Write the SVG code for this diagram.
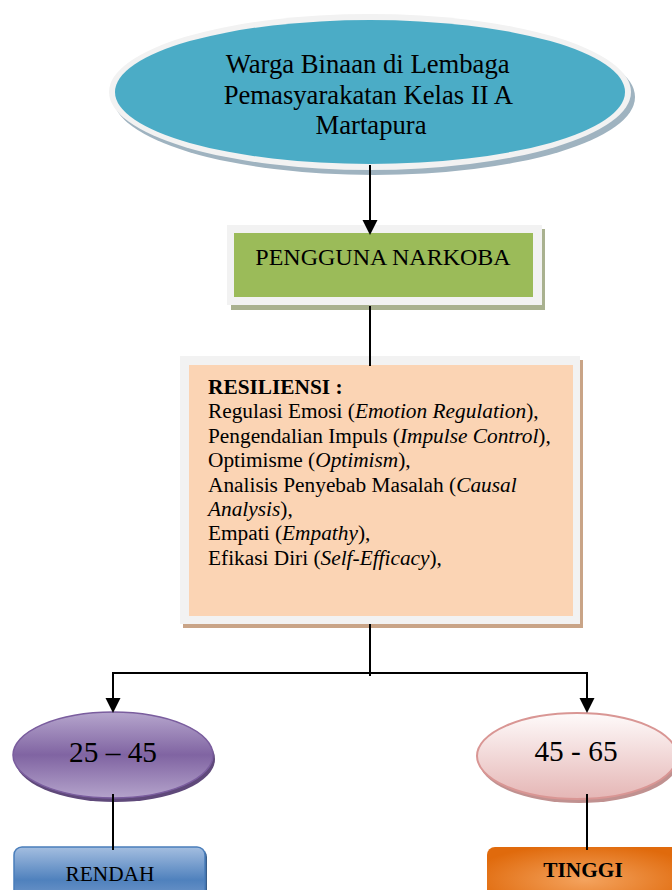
<svg xmlns="http://www.w3.org/2000/svg" width="672" height="890" viewBox="0 0 672 890">
  <style>
    .t { font-family: "Liberation Serif", "Times New Roman", serif; fill: #000; }
    .conn { stroke: #000; stroke-width: 2; fill: none; }
    .head { fill: #000; stroke: none; }
  </style>
  <defs>
    <linearGradient id="gPurple" x1="0" y1="0" x2="0" y2="1">
      <stop offset="0" stop-color="#b6a6cd"/>
      <stop offset="0.5" stop-color="#8064a2"/>
      <stop offset="1" stop-color="#b4a3cb"/>
    </linearGradient>
    <linearGradient id="gPink" x1="0" y1="0" x2="0" y2="1">
      <stop offset="0" stop-color="#fefafa"/>
      <stop offset="1" stop-color="#e5b6b5"/>
    </linearGradient>
    <linearGradient id="gBlue" x1="0" y1="0" x2="0" y2="1">
      <stop offset="0" stop-color="#a4bee0"/>
      <stop offset="0.55" stop-color="#4f81bd"/>
      <stop offset="1" stop-color="#7fa0cf"/>
    </linearGradient>
    <radialGradient id="gOrange" cx="0.5" cy="0.55" r="0.6">
      <stop offset="0" stop-color="#f4a35e"/>
      <stop offset="1" stop-color="#e06a0c"/>
    </radialGradient>
  </defs>

  <g id="node-warga">
    <ellipse cx="374" cy="97" rx="261" ry="78" fill="#9fb3c0"/>
    <ellipse cx="370" cy="92" rx="261" ry="78" fill="#f2f2f2"/>
    <ellipse cx="370" cy="92" rx="255" ry="72" fill="#4bacc6"/>
    <text class="t" font-size="26.67" text-anchor="middle">
      <tspan x="371" y="73">Warga Binaan di Lembaga</tspan>
      <tspan x="371" y="104">Pemasyarakatan Kelas II A</tspan>
      <tspan x="371" y="134">Martapura</tspan>
    </text>
  </g>

  <g id="node-pengguna">
    <rect x="231" y="229" width="314" height="81" fill="#a9b18f"/>
    <rect x="227" y="225" width="315" height="80" fill="#f2f2f2"/>
    <rect x="234" y="233" width="299" height="64" fill="#9bbb59"/>
    <text class="t" x="383" y="265" font-size="24" text-anchor="middle">PENGGUNA NARKOBA</text>
  </g>

  <g id="node-resiliensi">
    <rect x="183" y="360" width="400" height="268" fill="#c9a487"/>
    <rect x="180" y="356" width="400" height="268" fill="#f2f2f2"/>
    <rect x="189" y="365" width="384" height="251" fill="#fbd4b4"/>
    <text class="t" font-size="21.33">
      <tspan x="208" y="394" font-weight="bold">RESILIENSI :</tspan>
      <tspan x="208" y="418">Regulasi Emosi (<tspan font-style="italic">Emotion Regulation</tspan>),</tspan>
      <tspan x="208" y="443">Pengendalian Impuls (<tspan font-style="italic">Impulse Control</tspan>),</tspan>
      <tspan x="208" y="467">Optimisme (<tspan font-style="italic">Optimism</tspan>),</tspan>
      <tspan x="208" y="492">Analisis Penyebab Masalah (<tspan font-style="italic">Causal</tspan></tspan>
      <tspan x="208" y="516" font-style="italic">Analysis<tspan font-style="normal">),</tspan></tspan>
      <tspan x="208" y="540">Empati (<tspan font-style="italic">Empathy</tspan>),</tspan>
      <tspan x="208" y="565">Efikasi Diri (<tspan font-style="italic">Self-Efficacy</tspan>),</tspan>
    </text>
  </g>

  <g id="node-25-45">
    <ellipse cx="115" cy="759" rx="100" ry="43" fill="#5f497a"/>
    <ellipse cx="113" cy="755" rx="100" ry="43" fill="url(#gPurple)" stroke="#7a5d9e" stroke-width="1.5"/>
    <text class="t" x="113" y="762" font-size="29.33" text-anchor="middle">25 – 45</text>
  </g>

  <g id="node-45-65">
    <ellipse cx="579" cy="760" rx="100" ry="43" fill="#c09190"/>
    <ellipse cx="577" cy="756" rx="100" ry="43" fill="url(#gPink)" stroke="#d99694" stroke-width="2"/>
    <text class="t" x="576" y="761" font-size="29.33" text-anchor="middle">45 - 65</text>
  </g>

  <g id="node-rendah">
    <rect x="16" y="849" width="191" height="60" rx="8" fill="#385d8a"/>
    <rect x="14" y="847" width="191" height="60" rx="8" fill="url(#gBlue)" stroke="#4a7ebb" stroke-width="1.5"/>
    <text class="t" x="110" y="881" font-size="21.33" text-anchor="middle">RENDAH</text>
  </g>

  <g id="node-tinggi">
    <rect x="487" y="847" width="196" height="60" rx="8" fill="url(#gOrange)"/>
    <text class="t" x="583" y="877" font-size="21.33" font-weight="bold" text-anchor="middle">TINGGI</text>
  </g>

  <g id="connectors">
    <line class="conn" x1="370" y1="165" x2="370" y2="222"/>
    <polygon class="head" points="362.5,220 377.5,220 370,235"/>
    <line class="conn" x1="370" y1="306" x2="370" y2="366"/>
    <line class="conn" x1="370" y1="624" x2="370" y2="676"/>
    <polyline class="conn" points="113,700 113,673 587,673 587,700"/>
    <polygon class="head" points="105.5,698 120.5,698 113,713"/>
    <polygon class="head" points="579.5,698 594.5,698 587,713"/>
    <line class="conn" x1="113" y1="794" x2="113" y2="850"/>
    <line class="conn" x1="587" y1="794" x2="587" y2="850"/>
  </g>
</svg>
